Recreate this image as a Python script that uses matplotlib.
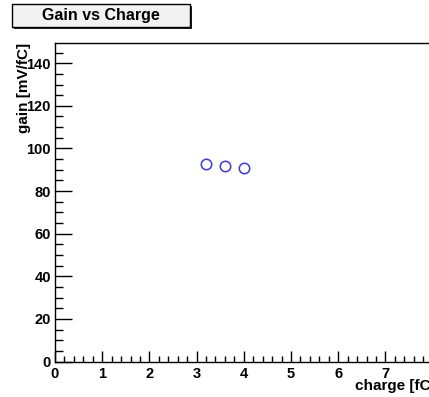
import matplotlib
matplotlib.use("Agg")
import matplotlib.pyplot as plt
from matplotlib.patches import Rectangle
from matplotlib.ticker import MultipleLocator, FuncFormatter

# data
charge = [3.2, 3.6, 4.0]
gain = [92.6, 91.9, 90.7]

W, H = 429, 397
plt.rcParams['font.family'] = ['Liberation Sans', 'DejaVu Sans']
plt.rcParams['font.weight'] = 'bold'

fig = plt.figure(figsize=(W / 100, H / 100), dpi=100)

# axes runs past the right edge of the canvas, like the cropped original
left, bottom, top = 55, 361.5, 43
px_per_unit = 47.2
xmax = 9
ax = fig.add_axes([left / W, 1 - bottom / H, xmax * px_per_unit / W, (bottom - top) / H])

ax.plot(charge, gain, 'o', mfc='none', mec='#3a3ae0', ms=7.5, mew=1.1)

ax.set_xlim(0, xmax)
ax.set_ylim(0, 149.5)
ax.xaxis.set_major_locator(MultipleLocator(1))
ax.xaxis.set_minor_locator(MultipleLocator(0.2))
ax.xaxis.set_major_formatter(FuncFormatter(lambda v, p: '%d' % v if v < 7.5 else ''))
ax.yaxis.set_major_locator(MultipleLocator(20))
ax.yaxis.set_minor_locator(MultipleLocator(5))
ax.tick_params(which='both', direction='in', top=False, right=False, width=1, colors='black')
ax.tick_params(axis='x', which='major', length=8, pad=4, labelsize=10.5)
ax.tick_params(axis='x', which='minor', length=4)
ax.tick_params(axis='y', which='major', length=12, pad=3, labelsize=10.5)
ax.tick_params(axis='y', which='minor', length=6)
for lab in ax.get_xticklabels() + ax.get_yticklabels():
    lab.set_fontweight('bold')
for sp in ax.spines.values():
    sp.set_linewidth(1)

# axis titles
fig.text(355 / W, 1 - 390 / H, 'charge [fC]', ha='left', va='baseline', fontsize=11, fontweight='bold')
fig.text(24.5 / W, 1 - top / H, 'gain [mV/fC]', ha='center', va='top', rotation=90,
         fontsize=11, fontweight='bold')

# title box with shadow
x0, y0, x1, y1 = 12, 4, 190, 27
fig.patches.append(Rectangle(((x0 + 2) / W, 1 - (y1 + 2) / H), (x1 - x0) / W, (y1 - y0) / H,
                             transform=fig.transFigure, facecolor='#222222', edgecolor='none', zorder=1))
fig.patches.append(Rectangle((x0 / W, 1 - y1 / H), (x1 - x0) / W, (y1 - y0) / H,
                             transform=fig.transFigure, facecolor='#f2f2f2', edgecolor='black', lw=1, zorder=2))
fig.text((x0 + x1) / 2 / W, 1 - (y0 + y1) / 2 / H, 'Gain vs Charge', ha='center', va='center',
         fontsize=11.5, fontweight='bold', zorder=3)

fig.savefig('out.png', dpi=100)
